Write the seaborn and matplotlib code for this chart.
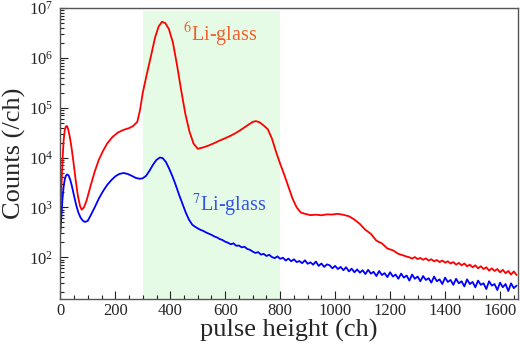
import numpy as np
import pandas as pd
import seaborn as sns
import matplotlib.pyplot as plt
from matplotlib.ticker import LogLocator, MultipleLocator, NullFormatter

# 6Li-glass spectrum (channel, counts/ch)
li6_ch = [0, 4, 8, 12, 16, 20, 24, 28, 34, 40, 48, 56, 64, 72, 78, 86, 96, 110,
          125, 140, 155, 170, 190, 210, 230, 250, 265, 280, 290, 300, 315, 330,
          345, 358, 370, 382, 395, 410, 425, 440, 455, 470, 485, 500, 520, 540,
          560, 580, 600, 620, 640, 660, 680, 700, 712, 725, 740, 755, 770, 785,
          800, 815, 830, 845, 860, 875, 890, 910, 930, 950, 970, 990, 1010, 1030,
          1050, 1070, 1090, 1110, 1130, 1150, 1170, 1190, 1210, 1230, 1250, 1260,
          1270, 1280, 1290, 1300, 1310, 1320, 1330, 1340, 1350, 1360, 1370, 1380,
          1390, 1400, 1410, 1420, 1430, 1440, 1450, 1460, 1470, 1480, 1490, 1500,
          1510, 1520, 1530, 1540, 1550, 1560, 1570, 1580, 1590, 1600, 1610, 1620,
          1630, 1640, 1650, 1660]
li6_counts = [700, 2500, 9000, 22000, 35000, 42000, 43000, 38000, 27000, 17000,
              8000, 3500, 1700, 1050, 900, 1000, 1400, 2700, 5200, 9000, 13500,
              19000, 26000, 32000, 36000, 39000, 43000, 52000, 90000, 200000,
              480000, 1100000, 2600000, 4300000, 5300000, 5000000, 3800000,
              2000000, 700000, 220000, 75000, 33000, 19000, 15000, 16000, 17500,
              19500, 22000, 24500, 27500, 31500, 37000, 44000, 52000, 54000,
              51000, 44000, 37000, 24000, 13000, 7500, 4500, 2600, 1500, 1000,
              790, 745, 700, 715, 695, 725, 720, 745, 710, 665, 570, 465, 355,
              295, 215, 190, 150, 138, 117, 108, 103, 100, 94, 101, 92, 97, 89,
              95, 86, 91, 83, 88, 80, 86, 78, 83, 75, 80, 71, 77, 69, 75, 66, 71,
              63, 69, 60, 66, 58, 63, 54, 60, 53, 58, 50, 56, 48, 53, 45, 52, 44]

# 7Li-glass spectrum
li7_ch = [0, 4, 8, 12, 16, 20, 25, 30, 36, 42, 50, 58, 66, 74, 82, 90, 100, 112,
          125, 140, 155, 170, 185, 200, 215, 230, 245, 260, 275, 290, 300, 312,
          325, 338, 350, 362, 372, 384, 396, 408, 420, 432, 444, 456, 468, 480,
          490, 500, 510, 520, 530, 540, 550, 560, 570, 580, 590, 600, 610, 620,
          630, 640, 650, 660, 670, 680, 690, 700, 710, 720, 730, 740, 750, 760,
          770, 780, 790, 800, 810, 820, 830, 840, 850, 860, 870, 880, 890, 900,
          910, 920, 930, 940, 950, 960, 970, 980, 990, 1000, 1010, 1020, 1030,
          1040, 1050, 1060, 1070, 1080, 1090, 1100, 1110, 1120, 1130, 1140, 1150,
          1160, 1170, 1180, 1190, 1200, 1210, 1220, 1230, 1240, 1250, 1260, 1270,
          1280, 1290, 1300, 1310, 1320, 1330, 1340, 1350, 1360, 1370, 1380, 1390,
          1400, 1410, 1420, 1430, 1440, 1450, 1460, 1470, 1480, 1490, 1500, 1510,
          1520, 1530, 1540, 1550, 1560, 1570, 1580, 1590, 1600, 1610, 1620, 1630,
          1640, 1650, 1660]
li7_counts = [300, 700, 1500, 2600, 3600, 4300, 4600, 4400, 3600, 2700, 1700,
              1100, 780, 620, 540, 510, 540, 720, 1000, 1500, 2100, 2800, 3500,
              4200, 4700, 4900, 4700, 4300, 3900, 3750, 3850, 4300, 5500, 7300,
              9000, 10000, 9800, 8200, 6000, 4200, 2800, 1800, 1200, 800, 570,
              450, 410, 380, 355, 338, 315, 298, 282, 262, 250, 232, 222, 205,
              196, 182, 190, 170, 172, 158, 163, 147, 141, 130, 122, 127, 113,
              117, 106, 112, 101, 96, 104, 93, 98, 86, 94, 83, 91, 80, 84, 76,
              87, 74, 79, 71, 82, 67, 75, 64, 72, 69, 60, 67, 58, 64, 55, 63, 52,
              59, 50, 57, 49, 55, 46, 56, 47, 51, 42, 53, 44, 48, 40, 50, 41, 45,
              37, 47, 39, 43, 34, 45, 37, 41, 33, 42, 35, 38, 31, 41, 33, 36, 29,
              39, 32, 35, 28, 37, 30, 33, 26, 36, 29, 32, 25, 34, 28, 30, 23, 33,
              27, 29, 22, 31, 25, 29, 21, 30, 24, 27]

band_lo, band_hi = 300, 800

df6 = pd.DataFrame({"ch": li6_ch, "counts": li6_counts})
df7 = pd.DataFrame({"ch": li7_ch, "counts": li7_counts})

sns.set_style("ticks")
plt.rcParams["font.family"] = ["Liberation Serif", "DejaVu Serif"]
plt.rcParams["mathtext.fontset"] = "stix"

fig, ax = plt.subplots(figsize=(5.2, 3.51), dpi=100)
fig.subplots_adjust(left=0.116, right=0.996, bottom=0.148, top=0.977)

# selected pulse-height window
ax.axvspan(band_lo, band_hi, ymin=0, ymax=0.99, color="#e6fbe6", lw=0, zorder=0)

sns.lineplot(data=df6, x="ch", y="counts", color="#ff0000", lw=1.3, ax=ax)
sns.lineplot(data=df7, x="ch", y="counts", color="#0000ff", lw=1.3, ax=ax)

ax.set_yscale("log")
ax.set_xlim(0, 1665)
ax.set_ylim(14.5, 1e7)

ax.xaxis.set_major_locator(MultipleLocator(200))
ax.xaxis.set_minor_locator(MultipleLocator(50))
ax.yaxis.set_major_locator(LogLocator(base=10))
ax.yaxis.set_minor_locator(LogLocator(base=10, subs=np.arange(2, 10)))
ax.yaxis.set_minor_formatter(NullFormatter())

ax.tick_params(which="both", direction="in", top=False, right=False,
               labelsize=12, color="#222222")
ax.tick_params(which="major", length=6, width=0.8)
ax.tick_params(which="minor", length=3, width=0.8)
ax.tick_params(axis="y", pad=5)
ax.tick_params(axis="x", pad=3)

for s in ax.spines.values():
    s.set_color("#555555")
    s.set_linewidth(1.0)
    s.set_visible(True)

ax.set_xlabel("pulse height (ch)", fontsize=19, labelpad=0)
ax.set_ylabel("Counts (/ch)", fontsize=19, labelpad=2)

ax.text(447, 10 ** 6.46, r"$^{6}$Li-glass", color="#f0602e", fontsize=14.5,
        va="center", ha="left")
ax.text(480, 1100, r"$^{7}$Li-glass", color="#3355e6", fontsize=14.5,
        va="center", ha="left")

fig.savefig("out.png", dpi=100)
